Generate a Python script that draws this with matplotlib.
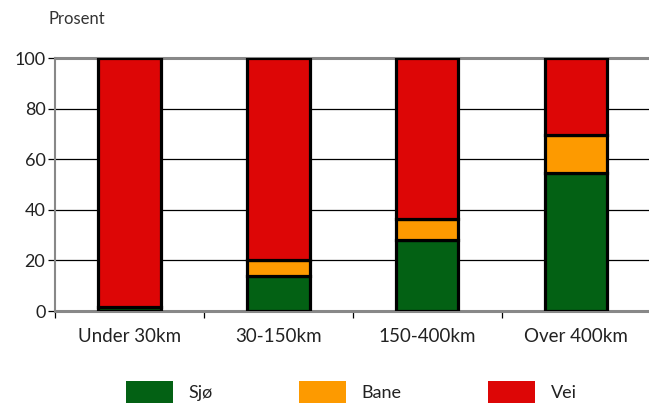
import numpy as np
import matplotlib.pyplot as plt
from matplotlib.patches import Patch

# data
categories = ['Under 30km', '30-150km', '150-400km', 'Over 400km']
sjo = [1.5, 14, 28, 54.5]
bane = [0, 6, 8.5, 15]
vei = [98.5, 80, 63.5, 30.5]
series_names = ['Sjø', 'Bane', 'Vei']
colors = ['#036114', '#fd9a00', '#dd0606']

plt.rcParams['font.family'] = ['Lato', 'DejaVu Sans']

fig = plt.figure(figsize=(6.49, 4.03), dpi=100)
ax = fig.add_axes([0.085, 0.228, 0.917, 0.628])

x = np.arange(len(categories))
width = 0.42
bottom = np.zeros(len(categories))
for vals, col, name in zip([sjo, bane, vei], colors, series_names):
    ax.bar(x, vals, width, bottom=bottom, color=col, edgecolor='black',
           linewidth=2.3, zorder=3, label=name)
    bottom += np.array(vals)

ax.set_xlim(-0.5, len(categories) - 0.5)
ax.set_ylim(0, 100)
ax.set_yticks([0, 20, 40, 60, 80, 100])
ax.yaxis.grid(True, color='black', linewidth=0.9, zorder=0)
ax.set_axisbelow(True)

# category labels centred, tick marks between groups
ax.set_xticks(np.arange(-0.5, len(categories)), minor=False)
ax.set_xticklabels([])
ax.set_xticks(x, minor=True)
ax.set_xticklabels(categories, minor=True, fontsize=13.5, color='#222222')
ax.tick_params(axis='x', which='minor', length=0, pad=12)
ax.tick_params(axis='x', which='major', length=5, width=0.9, color='black')
ax.tick_params(axis='y', length=5, width=0.9, labelsize=13, pad=2, labelcolor='#222222')

for side in ['left', 'right', 'top', 'bottom']:
    ax.spines[side].set_color('#888888')
    ax.spines[side].set_linewidth(2.2)
ax.spines['right'].set_visible(False)
ax.spines['left'].set_linewidth(1.5)

fig.text(0.074, 0.94, 'Prosent', fontsize=12, color='#333333')

handles = [Patch(facecolor=c, edgecolor='none') for c in colors]
fig.legend(handles, series_names, loc='lower left', bbox_to_anchor=(126 / 649, 0.0),
           ncol=3, frameon=False, fontsize=13, handlelength=2.6, handleheight=1.5,
           handletextpad=0.85, columnspacing=4.8, borderpad=0, borderaxespad=0,
           labelcolor='#222222')

fig.savefig('out.png', dpi=100)
